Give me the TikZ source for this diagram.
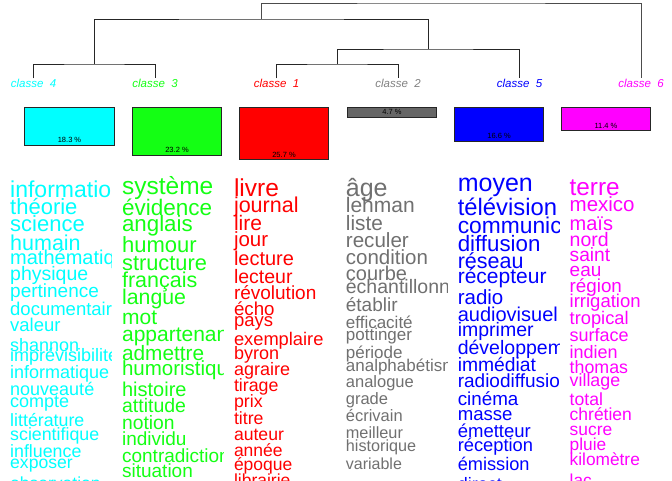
\documentclass[tikz,border=0pt]{standalone}
\usepackage{fontspec}
\setmainfont{Liberation Sans}
\usepackage{tikz}
\usetikzlibrary{positioning}

\definecolor{clcyan}{RGB}{0,255,255}
\definecolor{clgreen}{RGB}{20,255,20}
\definecolor{clred}{RGB}{255,0,0}
\definecolor{clgrey}{RGB}{112,112,112}
\definecolor{clbox}{RGB}{102,102,102}
\definecolor{clblue}{RGB}{0,0,255}
\definecolor{clmagenta}{RGB}{255,0,255}

\tikzset{
  leaf/.style={inner sep=0pt, anchor=base, font=\fontsize{11.5}{11.5}\selectfont\itshape},
  bar/.style={draw=black!85, line width=0.7pt, anchor=north, minimum width=89.5pt, inner sep=0pt},
  pct/.style={inner sep=0pt, font=\fontsize{7.5}{7.5}\selectfont},
  word/.style={inner sep=0pt, anchor=base west}
}

\begin{document}
\begin{tikzpicture}[x=1pt, y=-1pt]
  \useasboundingbox (0,0) rectangle (672,480);

  % Class labels
  \node[leaf, text=clcyan]    (k4) at (33.6,87)  {classe\ \ 4};
  \node[leaf, text=clgreen]   (k3) at (155,87)   {classe\ \ 3};
  \node[leaf, text=clred]     (k1) at (276.5,87) {classe\ \ 1};
  \node[leaf, text=black!50]  (k2) at (398,87)   {classe\ \ 2};
  \node[leaf, text=clblue]    (k5) at (519.5,87) {classe\ \ 5};
  \node[leaf, text=clmagenta] (k6) at (641,87)   {classe\ \ 6};

  % Dendrogram
  \coordinate (m43) at (94.3,64);
  \coordinate (m12) at (337.2,64);
  \coordinate (m125) at (428.4,49);
  \coordinate (m43125) at (261.4,19);
  \coordinate (mall) at (451,3);
  \draw[line width=0.8pt, black!85] (k4.north) |- (m43) -| (k3.north);
  \draw[line width=0.8pt, black!85] (k1.north) |- (m12) -| (k2.north);
  \draw[line width=0.8pt, black!85] (m12) |- (m125) -| (k5.north);
  \draw[line width=0.8pt, black!85] (m43) |- (m43125) -| (m125);
  \draw[line width=0.8pt, black!70] (m43125) |- (mall) -| (k6.north);

  % Class sizes
  \node[bar, fill=clcyan, minimum height=37.5pt]  (b4) at (69.5,107) {};
  \node[bar, fill=clgreen, minimum height=47.5pt] (b3) at (177,107)  {};
  \node[bar, fill=clred, minimum height=52.3pt]   (b1) at (284,107)  {};
  \node[bar, fill=clbox, minimum height=10pt]     (b2) at (392,107)  {};
  \node[bar, fill=clblue, minimum height=33.8pt]  (b5) at (499,107)  {};
  \node[bar, fill=clmagenta, minimum height=23.3pt] (b6) at (606,107) {};
  \node[pct] at ([yshift=5.3pt]b4.south) {18.3 \%};
  \node[pct] at ([yshift=5.3pt]b3.south) {23.2 \%};
  \node[pct] at ([yshift=5.3pt]b1.south) {25.7 \%};
  \node[pct] at ([yshift=5.3pt]b2.south) {4.7 \%};
  \node[pct] at ([yshift=5.3pt]b5.south) {16.6 \%};
  \node[pct] at ([yshift=5.3pt]b6.south) {11.4 \%};

  % Words of classe 4
  \begin{scope}
    \clip (0,160) rectangle (111.5,480);
    \foreach \w/\b/\s [count=\i] in {information/197.7/23, théorie/214.5/22, science/231.7/22,
        humain/250.5/21.5, mathématique/264.5/20, physique/280/19.5, pertinence/297.5/19,
        documentaire/315/18.5, valeur/331.7/18.5, shannon/351.5/18, imprévisibilité/361.7/18,
        informatique/378.3/18, nouveauté/395.5/18, compte/407.8/18, littérature/426/17.8,
        scientifique/440.3/17.8, influence/457.5/17.8, exposer/468.8/17.6, observation/489/17.5}
      \node[word, text=clcyan, font=\fontsize{\s}{\s}\selectfont] (c4w\i) at (10,\b) {\w};
  \end{scope}

  % Words of classe 3
  \begin{scope}
    \clip (112,160) rectangle (223.4,480);
    \foreach \w/\b/\s [count=\i] in {système/194.3/24.5, évidence/215/22.5, anglais/231.7/22.3,
        humour/252.3/22, structure/270.7/21.8, français/287.5/21.5, langue/304.3/21.3,
        mot/324.3/21, appartenance/341.7/21, admettre/360/20.8, humoristique/375/20.5,
        histoire/396.7/20, attitude/412.5/19.5, notion/429.5/19.3, individu/445.5/19,
        contradiction/462/19, situation/477.8/19}
      \node[word, text=clgreen, font=\fontsize{\s}{\s}\selectfont] (c3w\i) at (121.9,\b) {\w};
  \end{scope}

  % Words of classe 1
  \begin{scope}
    \clip (224,160) rectangle (335.3,480);
    \foreach \w/\b/\s [count=\i] in {livre/196.7/24.5, journal/212.7/21.5, lire/230/21,
        jour/246.7/20.5, lecture/265.7/20, lecteur/283.3/19.5, révolution/299/19,
        écho/315/18.7, pays/326.7/18.5, exemplaire/345/18.3, byron/359.3/18,
        agraire/375.7/18, tirage/391.7/17.8, prix/407.7/17.8, titre/424.3/17.7,
        auteur/440/17.6, année/456/17.5, époque/470.7/17.5, librairie/486.7/17.5}
      \node[word, text=clred, font=\fontsize{\s}{\s}\selectfont] (c1w\i) at (233.8,\b) {\w};
  \end{scope}

  % Words of classe 2
  \begin{scope}
    \clip (336,160) rectangle (447.2,480);
    \foreach \w/\b/\s [count=\i] in {âge/196.7/25, lehman/212.7/21, liste/230/20.8,
        reculer/247.3/20.6, condition/264.3/20.5, courbe/280/20, échantillonnage/293.3/19.5,
        établir/311.7/19, efficacité/328.3/17, pottinger/340.7/17, période/358.3/17,
        analphabétisme/371.7/17, analogue/387.7/16.5, grade/404.3/16.5, écrivain/421.7/16.5,
        meilleur/438.3/16.3, historique/451/16.2, variable/469/16}
      \node[word, text=clgrey, font=\fontsize{\s}{\s}\selectfont] (c2w\i) at (345.7,\b) {\w};
  \end{scope}

  % Words of classe 5
  \begin{scope}
    \clip (448,160) rectangle (559.1,480);
    \foreach \w/\b/\s [count=\i] in {moyen/191.7/25, télévision/215/23.8, communication/233.3/22.8,
        diffusion/251/22.3, réseau/268.3/21.5, récepteur/283.3/21, radio/304.3/20.5,
        audiovisuel/321.7/20, imprimer/336.7/19.5, développement/354/19.5, immédiat/371.7/19.3,
        radiodiffusion/387.7/19, cinéma/405/18.8, masse/420/18.6, émetteur/437.7/18.5,
        réception/451/18.3, émission/470/18.2, direct/490/18}
      \node[word, text=clblue, font=\fontsize{\s}{\s}\selectfont] (c5w\i) at (457.6,\b) {\w};
  \end{scope}

  % Words of classe 6
  \begin{scope}
    \clip (560,160) rectangle (672,480);
    \foreach \w/\b/\s [count=\i] in {terre/195/24.3, mexico/211.7/20.5, maïs/230/20,
        nord/246.7/19.5, saint/261.7/19.2, eau/276.7/19, région/292.7/18.8,
        irrigation/307.7/18.5, tropical/324.3/18.3, surface/341.7/18, indien/358.3/18,
        thomas/373.3/17.8, village/386.7/17.8, total/405/17.6, chrétien/420/17.5,
        sucre/435/17.4, pluie/450/17.3, kilomètre/465/17.3, lac/486/17.3}
      \node[word, text=clmagenta, font=\fontsize{\s}{\s}\selectfont] (c6w\i) at (569.5,\b) {\w};
  \end{scope}
\end{tikzpicture}
\end{document}
